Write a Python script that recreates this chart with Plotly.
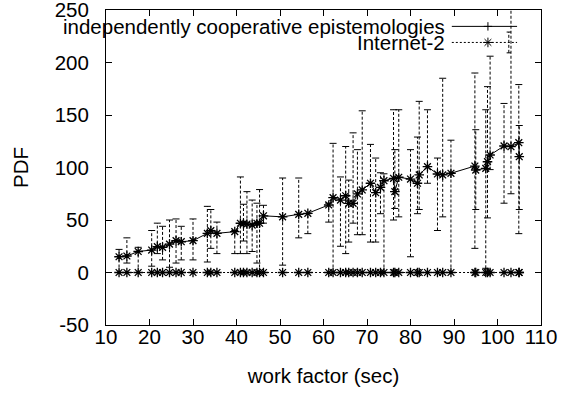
import plotly.graph_objects as go

# ---- data ----
work_factor = [13.0, 14.8, 17.4, 20.5, 21.8, 23.0, 24.6, 26.1, 27.3, 30.0,
               33.3, 34.1, 35.5, 39.6, 40.9, 41.6, 42.4, 43.6, 44.7, 45.3,
               46.2, 50.6, 54.3, 56.4, 61.2, 62.2, 63.9, 65.1, 65.8, 66.8,
               67.8, 68.9, 70.8, 72.0, 73.1, 73.9, 76.1, 76.4, 77.3, 80.0,
               81.6, 82.0, 83.9, 86.2, 87.4, 89.3, 94.8, 95.0, 97.3, 97.7,
               98.3, 101.5, 103.1, 104.9, 105.0]
epistemologies_pdf = [15.0, 15.7, 20.0, 21.4, 24.6, 24.0, 27.0, 30.3, 29.3, 30.3,
                      37.3, 39.8, 37.3, 38.9, 46.9, 46.5, 46.2, 45.2, 46.9, 46.9,
                      54.0, 53.0, 55.4, 56.4, 64.3, 71.3, 69.0, 73.1, 65.9, 65.9,
                      74.8, 78.6, 85.0, 76.0, 81.1, 87.4, 89.7, 77.0, 90.7, 89.0,
                      85.0, 92.9, 100.8, 93.8, 92.9, 94.5, 101.4, 97.6, 99.2, 105.5,
                      111.9, 120.5, 119.8, 123.6, 110.3]
internet2_pdf = [0.0] * len(work_factor)
internet2_low = [0, 9, 0, 6, 18, 12, 5, 9, 12, 12,
                 10, 23, 18, 18, 18, 30, 18, 20, 9, 0,
                 47, 7, 33, 37, 48, 0, 25, 18, 29, 47,
                 36, 36, 29, 29, 56, 0, 50, 61, 53, 15,
                 56, 60, 85, 40, 53, 0, 23, 60, 4, 52,
                 98, 66, 75, 37, 60]
internet2_high = [22, 33, 24, 40, 47, 44, 50, 51, 44, 51,
                  63, 60, 48, 40, 91, 65, 77, 69, 66, 79,
                  64, 90, 90, 56, 66, 123, 91, 120, 88, 133,
                  117, 154, 122, 109, 95, 94, 155, 117, 155, 117,
                  129, 163, 155, 109, 185, 126, 190, 136, 155, 177,
                  206, 161, 270, 179, 140]

series_names = ["independently cooperative epistemologies", "Internet-2"]
x_ticks = list(range(10, 111, 10))
y_ticks = list(range(-50, 251, 50))

FONT = "Liberation Sans, Arial, Helvetica, sans-serif"
FS = 20.5
BLACK = "black"

fig = go.Figure()

# error bars (dashed vertical segments) for Internet-2
bx, by = [], []
for xv, lo, hi in zip(work_factor, internet2_low, internet2_high):
    bx += [xv, xv, None]
    by += [lo, hi, None]
fig.add_trace(go.Scatter(x=bx, y=by, mode="lines", showlegend=False,
                         line=dict(color=BLACK, width=1, dash="3px,2px"),
                         hoverinfo="skip"))
fig.add_trace(go.Scatter(x=work_factor + work_factor,
                         y=internet2_low + internet2_high,
                         mode="markers", showlegend=False,
                         marker=dict(symbol="line-ew-open", size=5, color=BLACK,
                                     line=dict(color=BLACK, width=1)),
                         hoverinfo="skip"))

# Internet-2 points at zero
fig.add_trace(go.Scatter(x=work_factor, y=internet2_pdf, mode="lines+markers",
                         name=series_names[1], showlegend=False,
                         line=dict(color=BLACK, width=1, dash="2px,2px"),
                         marker=dict(symbol="asterisk-open", size=8, color=BLACK,
                                     line=dict(color=BLACK, width=1.3))))

# epistemologies line
fig.add_trace(go.Scatter(x=work_factor, y=epistemologies_pdf, mode="lines+markers",
                         name=series_names[0], showlegend=False,
                         line=dict(color=BLACK, width=1),
                         marker=dict(symbol="asterisk-open", size=8, color=BLACK,
                                     line=dict(color=BLACK, width=1.3))))

# ---- gnuplot-style key (text left, sample right) ----
row_y = [0.948, 0.897]
text_x = 0.785
samp_x0, samp_x1, samp_mark = 0.795, 0.945, 0.878
fig.add_trace(go.Scatter(x=[samp_mark], y=[row_y[0]], xaxis="x2", yaxis="y2",
                         mode="markers", showlegend=False, cliponaxis=False,
                         marker=dict(symbol="cross-thin-open", size=6, color=BLACK,
                                     line=dict(color=BLACK, width=1)),
                         hoverinfo="skip"))
fig.add_trace(go.Scatter(x=[samp_mark], y=[row_y[1]], xaxis="x2", yaxis="y2",
                         mode="markers", showlegend=False, cliponaxis=False,
                         marker=dict(symbol="asterisk-open", size=8, color=BLACK,
                                     line=dict(color=BLACK, width=1)),
                         hoverinfo="skip"))
shapes = [
    dict(type="line", xref="paper", yref="paper", x0=samp_x0, x1=samp_x1,
         y0=row_y[0], y1=row_y[0], line=dict(color=BLACK, width=1)),
    dict(type="line", xref="paper", yref="paper", x0=samp_x0, x1=samp_x1,
         y0=row_y[1], y1=row_y[1], line=dict(color=BLACK, width=1, dash="2px,2px")),
    dict(type="line", xref="paper", yref="paper", x0=0.926, x1=0.926,
         y0=row_y[1] - 0.033, y1=row_y[1] + 0.033,
         line=dict(color=BLACK, width=1, dash="3px,2px")),
    dict(type="line", xref="paper", yref="paper", x0=0.921, x1=0.931,
         y0=row_y[1] + 0.033, y1=row_y[1] + 0.033, line=dict(color=BLACK, width=1)),
    dict(type="line", xref="paper", yref="paper", x0=0.921, x1=0.931,
         y0=row_y[1] - 0.033, y1=row_y[1] - 0.033, line=dict(color=BLACK, width=1)),
]
annotations = [
    dict(text=series_names[i], xref="paper", yref="paper", x=text_x, y=row_y[i],
         xanchor="right", yanchor="middle", showarrow=False,
         font=dict(family=FONT, size=FS, color=BLACK))
    for i in range(2)
]

axis_common = dict(showline=True, mirror="allticks", linecolor=BLACK, linewidth=1,
                   ticks="inside", ticklen=6, tickcolor=BLACK, showgrid=False,
                   zeroline=False, ticklabeloverflow="allow", automargin=False,
                   tickfont=dict(family=FONT, size=FS, color=BLACK))

fig.update_layout(
    width=568, height=393,
    margin=dict(l=106, r=27, t=10, b=68, autoexpand=False),
    paper_bgcolor="white", plot_bgcolor="white",
    font=dict(family=FONT, size=FS, color=BLACK),
    shapes=shapes, annotations=annotations,
    xaxis=dict(range=[10 - 1e-6, 110 + 1e-6], tickvals=x_ticks,
               ticktext=[str(v) for v in x_ticks], ticklabelstandoff=-7,
               title=dict(text="work factor (sec)", standoff=22,
                          font=dict(family=FONT, size=FS)), **axis_common),
    yaxis=dict(range=[-50 - 1e-4, 250 + 1e-4], tickvals=y_ticks,
               ticktext=[str(v) for v in y_ticks], ticklabelstandoff=12,
               title=dict(text="PDF", standoff=20,
                          font=dict(family=FONT, size=FS)), **axis_common),
    xaxis2=dict(overlaying="x", range=[0, 1], visible=False),
    yaxis2=dict(overlaying="y", range=[0, 1], visible=False),
)

fig.write_html("out.html")
